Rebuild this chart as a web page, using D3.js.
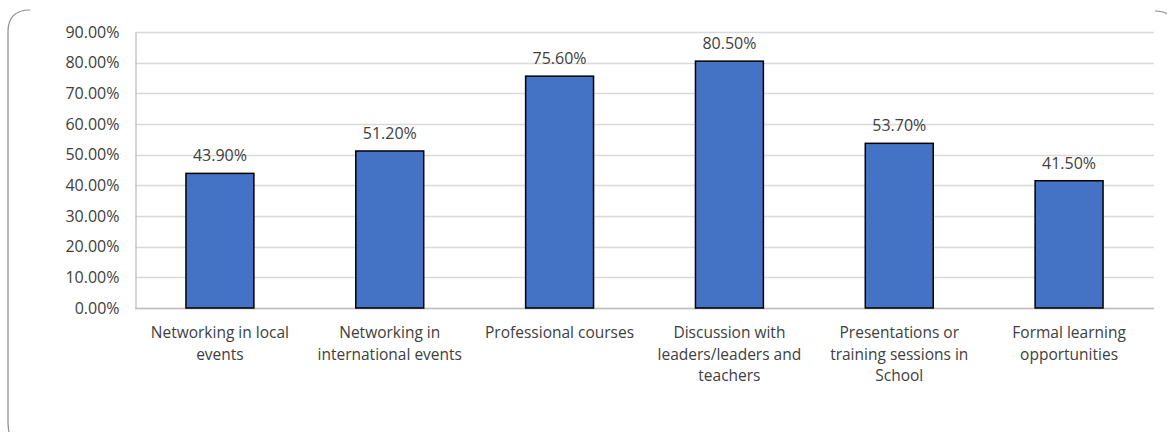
<!DOCTYPE html>
<html>
<head>
<meta charset="utf-8">
<script src="https://cdn.jsdelivr.net/npm/d3@7"></script>
<style>
  html, body { margin: 0; padding: 0; background: #fff; }
  svg { display: block; }
  text { font-family: "Open Sans", "Noto Sans", sans-serif; fill: #404040; }
</style>
</head>
<body>
<svg id="chart" width="1167" height="435"></svg>
<script>
// Share of respondents per professional-development activity
const categories = [
  ["Networking in local", "events"],
  ["Networking in", "international events"],
  ["Professional courses"],
  ["Discussion with", "leaders/leaders and", "teachers"],
  ["Presentations or", "training sessions in", "School"],
  ["Formal learning", "opportunities"]
];
const values = [43.9, 51.2, 75.6, 80.5, 53.7, 41.5];
const tickValues = [0, 10, 20, 30, 40, 50, 60, 70, 80, 90];

const svg = d3.select("#chart");
const margin = { left: 135, right: 13, top: 32, bottom: 127 };
const W = 1167, H = 435;
const numFont = "16px";
const catFont = "15.5px";

// Frame outline: rounded corners on the left and a small top-right corner
svg.append("path")
  .attr("d", "M9,432 Q8,428 8,420 L8,32 Q8,10 30,10")
  .attr("fill", "none").attr("stroke", "#8c8c8c").attr("stroke-width", 1.2);
svg.append("path")
  .attr("d", "M1155,11 Q1163,11 1167,14")
  .attr("fill", "none").attr("stroke", "#8c8c8c").attr("stroke-width", 1.2);

const x = d3.scaleBand()
  .domain(d3.range(values.length))
  .range([margin.left, W - margin.right])
  .paddingInner(0.6).paddingOuter(0.3);

const y = d3.scaleLinear()
  .domain([0, 90])
  .range([H - margin.bottom, margin.top]);

// Horizontal gridlines
svg.append("g")
  .selectAll("line")
  .data(tickValues)
  .join("line")
  .attr("x1", margin.left).attr("x2", W - margin.right)
  .attr("y1", d => Math.round(y(d)) + 0.5).attr("y2", d => Math.round(y(d)) + 0.5)
  .attr("stroke", "#d9d9d9").attr("stroke-width", 1.3);

// Y axis
const yAxis = svg.append("g")
  .attr("transform", `translate(${margin.left + 0.5},0)`)
  .call(d3.axisLeft(y).tickValues(tickValues).tickSize(0).tickPadding(16)
    .tickFormat(d => d.toFixed(2) + "%"));
yAxis.select(".domain").attr("stroke", "#bfbfbf").attr("stroke-width", 1.3);
yAxis.selectAll("text")
  .style("font-size", numFont).attr("fill", "#404040")
  .attr("font-family", "'Open Sans', sans-serif");

// Baseline
svg.append("line")
  .attr("x1", margin.left).attr("x2", W - margin.right)
  .attr("y1", Math.round(y(0)) + 0.5).attr("y2", Math.round(y(0)) + 0.5)
  .attr("stroke", "#bfbfbf").attr("stroke-width", 1.3);

// Bars
svg.append("g")
  .selectAll("rect")
  .data(values)
  .join("rect")
  .attr("x", (d, i) => x(i))
  .attr("y", d => y(d))
  .attr("width", x.bandwidth())
  .attr("height", d => y(0) - y(d))
  .attr("fill", "#4472c4")
  .attr("stroke", "#000")
  .attr("stroke-width", 1.5);

// Value labels
svg.append("g")
  .selectAll("text")
  .data(values)
  .join("text")
  .attr("x", (d, i) => x(i) + x.bandwidth() / 2)
  .attr("y", d => y(d) - 12)
  .attr("text-anchor", "middle")
  .style("font-size", numFont)
  .text(d => d.toFixed(2) + "%");

// Category labels (wrapped)
const catG = svg.append("g");
categories.forEach((lines, i) => {
  const t = catG.append("text")
    .attr("x", x(i) + x.bandwidth() / 2)
    .attr("y", y(0) + 30)
    .attr("text-anchor", "middle")
    .style("font-size", catFont);
  lines.forEach((ln, k) => {
    t.append("tspan")
      .attr("x", x(i) + x.bandwidth() / 2)
      .attr("dy", k === 0 ? 0 : 21.5)
      .text(ln);
  });
});
</script>
</body>
</html>
